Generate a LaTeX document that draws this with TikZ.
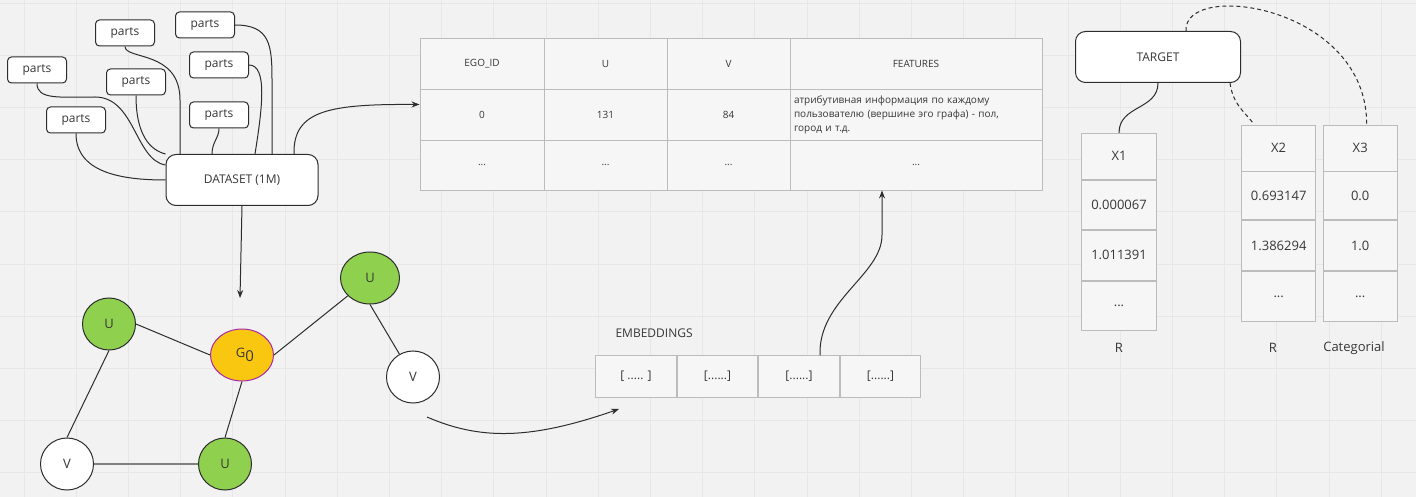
\documentclass[tikz,border=0pt]{standalone}
\usepackage{fontspec}
\setmainfont{Open Sans}
\usetikzlibrary{arrows.meta,positioning,shapes.geometric}

\definecolor{boardgray}{RGB}{242,242,242}
\definecolor{gridgray}{RGB}{231,231,231}
\definecolor{cellfill}{RGB}{246,246,246}
\definecolor{cellline}{RGB}{188,188,188}
\definecolor{linegray}{RGB}{45,45,45}
\definecolor{textgray}{RGB}{55,55,55}
\definecolor{leafgreen}{RGB}{143,209,79}
\definecolor{egoyellow}{RGB}{250,199,16}
\definecolor{egopurple}{RGB}{170,40,170}

\tikzset{
  gridline/.style={draw=gridgray, line width=0.8pt},
  partbox/.style={draw=linegray, fill=white, rounded corners=4pt, line width=1pt,
    minimum width=59pt, minimum height=26pt, inner sep=0pt, text=textgray,
    font=\fontsize{12}{14}\selectfont},
  bigbox/.style={partbox, rounded corners=10pt, minimum width=152pt, minimum height=51pt},
  cell/.style={draw=cellline, fill=cellfill, line width=0.9pt, inner sep=0pt,
    minimum height=51pt, text=textgray, font=\fontsize{10}{14}\selectfont},
  colcell/.style={cell, minimum width=75pt, minimum height=49.5pt,
    font=\fontsize{13}{15}\selectfont},
  embcell/.style={cell, minimum width=80.6pt, minimum height=41.6pt,
    font=\fontsize{12}{14}\selectfont},
  vertex/.style={ellipse, draw=linegray, line width=1pt, minimum width=53pt,
    minimum height=52pt, inner sep=0pt, text=textgray, font=\fontsize{13}{15}\selectfont},
  link/.style={draw=linegray, line width=1pt},
  flow/.style={link, -{Stealth[length=8pt,width=6pt]}},
  hint/.style={link, dash pattern=on 4pt off 3pt},
  plain/.style={text=textgray, font=\fontsize{12}{14}\selectfont}
}

\begin{document}
\begin{tikzpicture}[x=1pt,y=-1pt]
    \useasboundingbox (0,0) rectangle (1416,497);
    % board
    \fill[boardgray] (0,0) rectangle (1416,497);
    \foreach \gx in {0,...,26} \draw[gridline] ({24+52.2*\gx},0) -- ({24+52.2*\gx},497);
    \foreach \gy in {0,...,9} \draw[gridline] (0,{3+52.2*\gy}) -- (1416,{3+52.2*\gy});

    % dataset and its parts
    \node[partbox] (parts1) at (37,70) {parts};
    \node[partbox] (parts2) at (76,120) {parts};
    \node[partbox] (parts3) at (125,33) {parts};
    \node[partbox] (parts4) at (136,82) {parts};
    \node[partbox] (parts5) at (205,25) {parts};
    \node[partbox] (parts6) at (219,65) {parts};
    \node[partbox] (parts7) at (219,115) {parts};
    \node[bigbox] (dataset) at (242,180) {DATASET (1M)};

    \draw[link] (parts1.south) .. controls (37,100) and (60,97) .. (95,97)
        .. controls (135,97) and (135,160) .. ([yshift=15pt]dataset.west);
    \draw[link] (parts2.south) .. controls (76,172) and (120,180) .. (dataset.west);
    \draw[link] (parts3.south) .. controls (125,60) and (180,50) .. (180,100) -- ([xshift=-62pt]dataset.north);
    \draw[link] (parts4.south) .. controls (136,135) and (150,150) .. (dataset.north west);
    \draw[link] (parts5.east) .. controls (270,25) and (272,45) .. (272,80) -- ([xshift=30pt]dataset.north);
    \draw[link] (parts6.east) .. controls (268,65) and (262,110) .. ([xshift=13pt]dataset.north);
    \draw[link] (parts7.south) .. controls (219,138) and (212,142) .. ([xshift=-30pt]dataset.north);

    % table
    \node[cell, minimum width=124pt] (ego0) at (482,63.5) {EGO\_ID};
    \node[cell, minimum width=123pt] (ucol0) at (605.5,63.5) {U};
    \node[cell, minimum width=123pt] (vcol0) at (728.5,63.5) {V};
    \node[cell, minimum width=252pt] (feat0) at (916,63.5) {FEATURES};
    \node[cell, minimum width=124pt] (ego1) at (482,114.5) {0};
    \node[cell, minimum width=123pt] (ucol1) at (605.5,114.5) {131};
    \node[cell, minimum width=123pt] (vcol1) at (728.5,114.5) {84};
    \node[cell, text width=244pt, inner xsep=4pt, align=left] (feat1) at (916,114.5)
        {атрибутивная информация по каждому\\пользователю (вершине эго графа) - пол,\\город и т.д.};
    \node[cell, minimum width=124pt, minimum height=50pt] (ego2) at (482,165) {...};
    \node[cell, minimum width=123pt, minimum height=50pt] (ucol2) at (605.5,165) {...};
    \node[cell, minimum width=123pt, minimum height=50pt] (vcol2) at (728.5,165) {...};
    \node[cell, minimum width=252pt, minimum height=50pt] (feat2) at (916,165) {...};

    \draw[flow] ([xshift=52pt]dataset.north) .. controls (293,110) and (330,104) .. ([yshift=10pt]ego1.west);

    % ego graph
    \coordinate (graphtop) at (240,298);
    \draw[flow] (dataset.south) -- (graphtop);

    \node[vertex, fill=leafgreen] (gu1) at (109,324) {U};
    \node[vertex, fill=egoyellow, draw=egopurple, minimum width=63pt] (ego) at (242,355)
        {\hspace{6pt}G\raisebox{-4pt}{\fontsize{15}{15}\selectfont 0}};
    \node[vertex, fill=leafgreen, minimum width=59pt] (gu2) at (370,278) {U};
    \node[vertex, fill=white] (gv1) at (413,377) {V};
    \node[vertex, fill=white] (gv2) at (67,464) {V};
    \node[vertex, fill=leafgreen] (gu3) at (225,464) {U};

    \draw[link] (gu1.east) -- (ego.west);
    \draw[link] (ego.east) -- (gu2);
    \draw[link] (gu2.south) -- (gv1);
    \draw[link] (gu1.south) -- (gv2.north);
    \draw[link, draw=gray, line width=1.6pt] (gv2.east) -- (gu3.west);
    \draw[link] (ego.south) -- (gu3.north);

    % embeddings
    \node[embcell] (emb1) at (636,376.5) {[ ..... ]};
    \node[embcell, right=0pt of emb1] (emb2) {[......]};
    \node[embcell, right=0pt of emb2] (emb3) {[......]};
    \node[embcell, right=0pt of emb3] (emb4) {[......]};
    \node[plain, anchor=west] (embtitle) at (612,333) {EMBEDDINGS};

    \coordinate (vout) at (427,417);
    \coordinate (embin) at (619,409);
    \draw[flow] (vout) .. controls (480,440) and (530,440) .. (embin);
    \draw[flow] ([xshift=21pt]emb3.north) .. controls (818,300) and (882,275) .. (882,235)
        -- ([xshift=-34pt]feat2.south);

    % target and columns
    \node[bigbox, minimum width=165pt] (target) at (1158,57) {TARGET};

    \node[colcell, minimum height=46pt] (xone) at (1119,156.3) {X1};
    \node[colcell, below=0pt of xone] (xoneA) {0.000067};
    \node[colcell, below=0pt of xoneA] (xoneB) {1.011391};
    \node[colcell, below=0pt of xoneB] (xoneC) {...};

    \node[colcell, minimum width=74pt, minimum height=46pt] (xtwo) at (1278.7,148) {X2};
    \node[colcell, minimum width=74pt, minimum height=48pt, below=0pt of xtwo] (xtwoA) {0.693147};
    \node[colcell, minimum width=74pt, minimum height=50pt, below=0pt of xtwoA] (xtwoB) {1.386294};
    \node[colcell, minimum width=74pt, minimum height=50pt, below=0pt of xtwoB] (xtwoC) {...};

    \node[colcell, minimum width=74pt, minimum height=46pt] (xthree) at (1360.2,148) {X3};
    \node[colcell, minimum width=74pt, minimum height=48pt, below=0pt of xthree] (xthreeA) {0.0};
    \node[colcell, minimum width=74pt, minimum height=50pt, below=0pt of xthreeA] (xthreeB) {1.0};
    \node[colcell, minimum width=74pt, minimum height=50pt, below=0pt of xthreeB] (xthreeC) {...};

    \node[plain, font=\fontsize{13}{15}\selectfont] (typeone) at (1119,348) {R};
    \node[plain, font=\fontsize{13}{15}\selectfont] (typetwo) at (1273,348) {R};
    \node[plain, font=\fontsize{13}{15}\selectfont] (typethree) at (1354,348) {Categorial};

    \draw[link] (target.south) .. controls (1158,110) and (1119,105) .. (xone.north);
    \draw[hint] ([xshift=72pt]target.south) .. controls (1233,105) and (1245,112) .. ([xshift=-24.5pt]xtwo.north);
    \draw[hint] ([xshift=28pt]target.north) .. controls (1183,-20) and (1367,5) .. ([xshift=6.5pt]xthree.north);

\end{tikzpicture}
\end{document}
